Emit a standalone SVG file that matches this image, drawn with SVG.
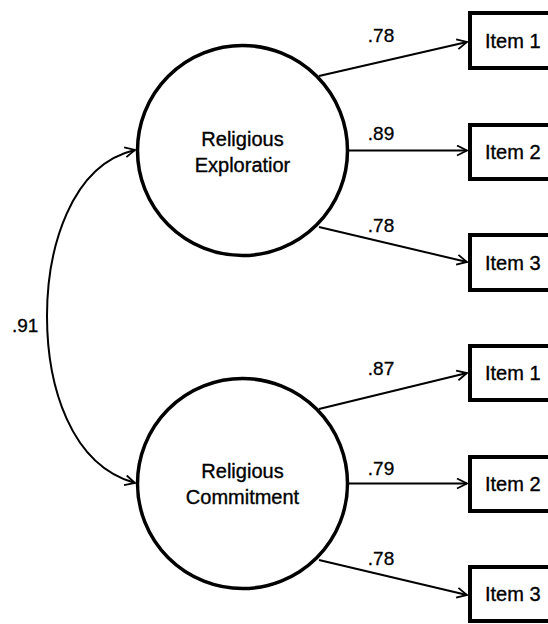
<svg xmlns="http://www.w3.org/2000/svg" width="548" height="624" viewBox="0 0 548 624">
<style>
.lat{fill:#fff;stroke:#000;stroke-width:3.5}
.box{fill:#fff;stroke:#000;stroke-width:4}
.edge{fill:none;stroke:#000;stroke-width:2}
.t{font-family:"Liberation Sans",Arial,sans-serif;font-size:20px;fill:#000;stroke:#000;stroke-width:0.35}
.lbl{font-family:"Liberation Sans",Arial,sans-serif;font-size:19px;fill:#000;stroke:#000;stroke-width:0.3}
.c{text-anchor:middle}
</style>
<defs>
<marker id="arr" viewBox="0 0 12 12" refX="11" refY="6" markerWidth="12" markerHeight="12" markerUnits="userSpaceOnUse" orient="auto-start-reverse">
<path d="M1,1 L11,6 L1,11" fill="none" stroke="#000" stroke-width="1.8"/>
</marker>
</defs>
<rect width="548" height="624" fill="#fff"/>
<g id="connectors">
<path class="edge" d="M319,76 L467,42" marker-end="url(#arr)"/>
<path class="edge" d="M348,150.5 L467,150.5" marker-end="url(#arr)"/>
<path class="edge" d="M319,227 L467,262" marker-end="url(#arr)"/>
<path class="edge" d="M319,409 L467,373" marker-end="url(#arr)"/>
<path class="edge" d="M348,483.5 L467,483.5" marker-end="url(#arr)"/>
<path class="edge" d="M319,560 L467,595" marker-end="url(#arr)"/>
<path class="edge" d="M135,150 C70,165 47,250 47,316 C47,385 70,465 135,483" marker-start="url(#arr)" marker-end="url(#arr)"/>
<text class="lbl c" x="381" y="42">.78</text>
<text class="lbl c" x="381" y="140">.89</text>
<text class="lbl c" x="381" y="232">.78</text>
<text class="lbl c" x="381" y="375">.87</text>
<text class="lbl c" x="381" y="475">.79</text>
<text class="lbl c" x="381" y="565">.78</text>
<text class="lbl" x="12" y="332">.91</text>
</g>
<g id="explore">
<circle class="lat" cx="242.5" cy="150.5" r="105"/>
<text class="t c" x="242.5" y="146">Religious</text>
<text class="t c" x="242.5" y="172">Exploratior</text>
</g>
<g id="commit">
<circle class="lat" cx="242.5" cy="483.5" r="105"/>
<text class="t c" x="242.5" y="478">Religious</text>
<text class="t c" x="242.5" y="504">Commitment</text>
</g>
<g id="e1"><rect class="box" x="470" y="13" width="100" height="55"/><text class="t" x="485" y="47.5">Item 1</text></g>
<g id="e2"><rect class="box" x="470" y="125" width="100" height="54"/><text class="t" x="485" y="159">Item 2</text></g>
<g id="e3"><rect class="box" x="470" y="235" width="100" height="55"/><text class="t" x="485" y="270">Item 3</text></g>
<g id="c1"><rect class="box" x="470" y="346" width="100" height="54"/><text class="t" x="485" y="380">Item 1</text></g>
<g id="c2"><rect class="box" x="470" y="457" width="100" height="54"/><text class="t" x="485" y="491">Item 2</text></g>
<g id="c3"><rect class="box" x="470" y="567" width="100" height="54"/><text class="t" x="485" y="601">Item 3</text></g>
</svg>
